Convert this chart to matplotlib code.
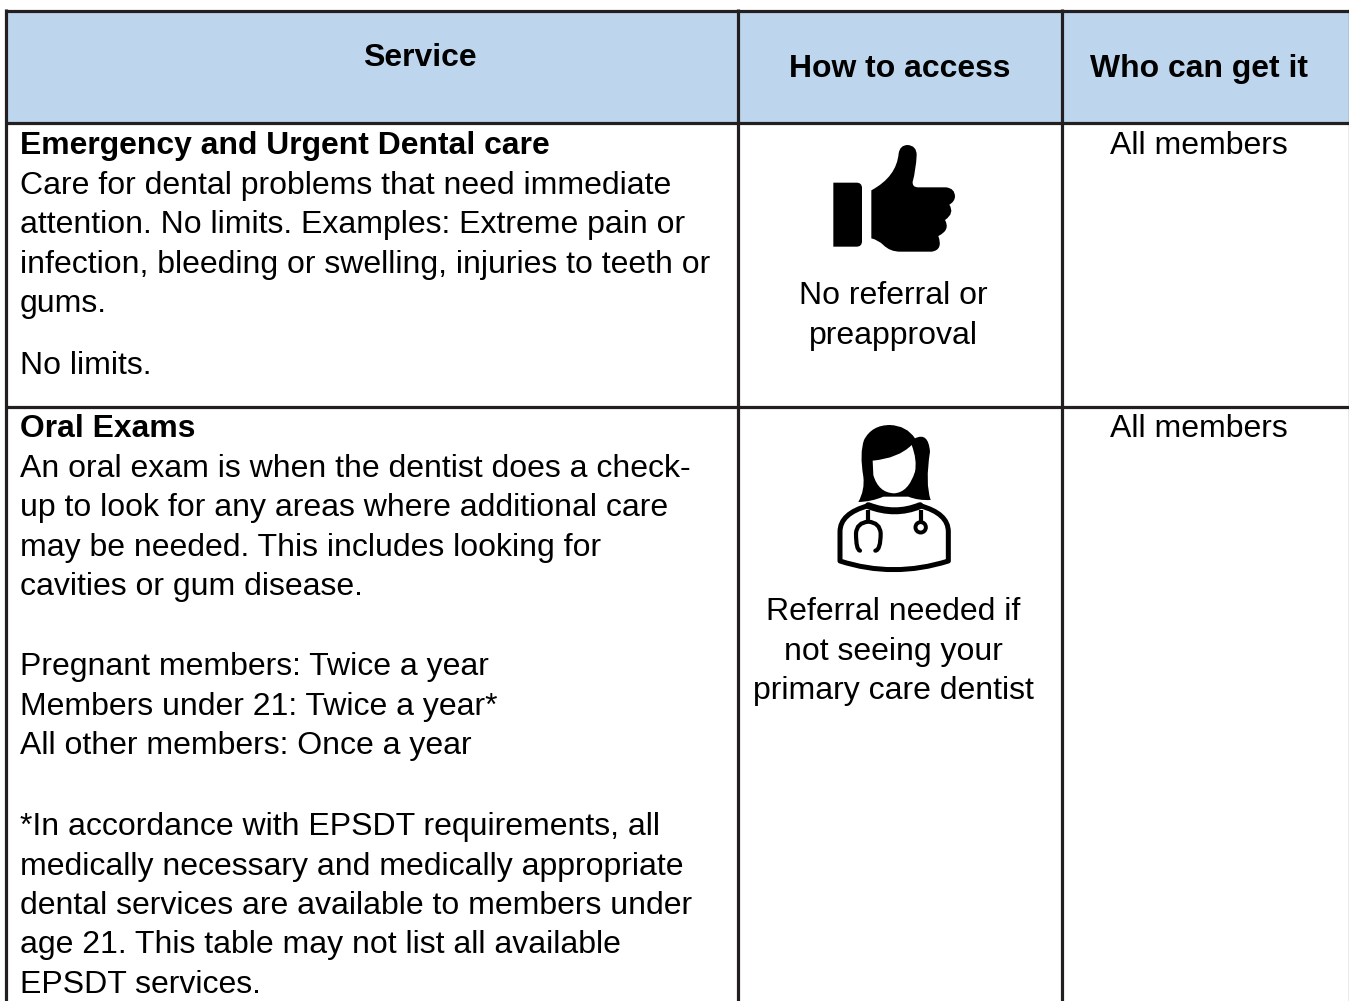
import matplotlib
matplotlib.use("Agg")
import matplotlib.pyplot as plt
from matplotlib.path import Path
from matplotlib.patches import PathPatch, Rectangle, Circle

plt.rcParams['font.family'] = ['Liberation Sans', 'DejaVu Sans']

W, H = 1349, 1001
FS = 23.05
FS_BOLD = 22.98
LINE = '#231f20'
HEAD = '#bdd6ee'

# Table text
headers = ["Service", "How to access", "Who can get it"]
row1_title = "Emergency and Urgent Dental care"
row1_lines = ["Care for dental problems that need immediate",
              "attention. No limits. Examples: Extreme pain or",
              "infection, bleeding or swelling, injuries to teeth or",
              "gums."]
row1_note = "No limits."
row1_access = ["No referral or", "preapproval"]
row2_title = "Oral Exams"
row2_lines = ["An oral exam is when the dentist does a check-",
              "up to look for any areas where additional care",
              "may be needed. This includes looking for",
              "cavities or gum disease."]
row2_freq = ["Pregnant members: Twice a year",
             "Members under 21: Twice a year*",
             "All other members: Once a year"]
row2_note = ["*In accordance with EPSDT requirements, all",
             "medically necessary and medically appropriate",
             "dental services are available to members under",
             "age 21. This table may not list all available",
             "EPSDT services."]
row2_access = ["Referral needed if", "not seeing your", "primary care dentist"]
who = "All members"

# Table grid, in pixels
col_x = [6, 737.5, 1062, 1349.5]
row_y = [10.5, 122.5, 406.5]

fig = plt.figure(figsize=(W / 100, H / 100), dpi=100)
ax = fig.add_axes([0, 0, 1, 1])
ax.set_xlim(0, W)
ax.set_ylim(H, 0)
ax.axis('off')

# Header band and grid
ax.add_patch(Rectangle((col_x[0], row_y[0]), col_x[3] - col_x[0], row_y[1] - row_y[0],
                       fc=HEAD, ec='none'))
for x in col_x:
    ax.plot([x, x], [row_y[0] - 1.5, H], color=LINE, lw=2.3, solid_capstyle='butt')
for y in row_y:
    ax.plot([col_x[0] - 1.5, W], [y, y], color=LINE, lw=2.3, solid_capstyle='butt')


def put(x, y, s, ha='left', bold=False):
    ax.text(x, y, s, ha=ha, va='baseline', fontsize=FS_BOLD if bold else FS, color='black',
            fontweight='bold' if bold else 'normal')


# Headers
put(420, 66, headers[0], 'center', True)
put(899.5, 77, headers[1], 'center', True)
put(1199.5, 77, headers[2], 'center', True)

# Row 1
put(20, 154, row1_title, bold=True)
for y, s in zip([194, 233, 273, 312], row1_lines):
    put(20, y, s)
put(20, 374, row1_note)
for y, s in zip([304, 344], row1_access):
    put(893, y, s, 'center')
put(1199, 154, who, 'center')

# Row 2
put(20, 437, row2_title, bold=True)
for y, s in zip([477, 516, 556, 595], row2_lines):
    put(20, y, s)
for y, s in zip([675, 715, 754], row2_freq):
    put(20, y, s)
for y, s in zip([835, 875, 914, 953, 993], row2_note):
    put(20, y, s)
for y, s in zip([620, 660, 699], row2_access):
    put(893, y, s, 'center')
put(1199, 437, who, 'center')


def shape(ox, oy, cmds, **kw):
    # cmds are drawn in 3x crop units with an origin at ox, oy
    verts, codes = [], []
    for c in cmds:
        if len(c) == 1:
            codes.append(Path.CLOSEPOLY)
            verts.append((0, 0))
        else:
            kind = {'M': Path.MOVETO, 'L': Path.LINETO, 'Q': Path.CURVE3}[c[0]]
            for p in c[1:]:
                verts.append((ox + p[0] / 3, oy + p[1] / 3))
                codes.append(kind)
    ax.add_patch(PathPatch(Path(verts, codes), **kw))


# Thumbs up icon
tx, ty = 760, 130
fill = dict(fc='black', ec='none')
shape(tx, ty, [('M', (220, 158)), ('L', (290, 158)), ('Q', (305, 158), (306, 173)),
               ('L', (306, 335)), ('Q', (305, 350), (290, 350)), ('L', (220, 350)), ('Z',)], **fill)
shape(tx, ty, [('M', (334, 181)), ('Q', (410, 140), (416, 70)),
               ('Q', (420, 45), (443, 45)), ('Q', (470, 47), (470, 75)),
               ('Q', (468, 120), (458, 155)), ('Q', (456, 172), (475, 172)),
               ('L', (558, 172)), ('Q', (585, 175), (585, 200)),
               ('Q', (584, 215), (568, 224)), ('Q', (585, 250), (555, 270)),
               ('Q', (572, 300), (535, 318)), ('Q', (550, 360), (515, 365)),
               ('L', (420, 365)), ('Q', (390, 365), (370, 345)),
               ('Q', (355, 330), (334, 325)), ('Z',)], **fill)

# Doctor icon
dx, dy = 800, 410
shape(dx, dy, [('M', (175, 276)), ('Q', (195, 240), (190, 200)), ('Q', (178, 130), (192, 90)),
               ('Q', (215, 45), (270, 45)), ('Q', (320, 47), (345, 85)),
               ('Q', (385, 65), (390, 125)), ('Q', (375, 220), (392, 270)),
               ('Q', (355, 272), (325, 260)), ('L', (250, 260)),
               ('Q', (215, 275), (175, 276)), ('Z',)], **fill)
shape(dx, dy, [('M', (218, 152)), ('Q', (295, 145), (335, 105)), ('Q', (352, 150), (345, 185)),
               ('Q', (325, 248), (282, 250)), ('Q', (235, 248), (220, 195)), ('Z',)],
      fc='white', ec='none')
stroke = dict(fc='none', ec='black', lw=3.6, capstyle='round', joinstyle='round')
shape(dx, dy, [('M', (205, 287)), ('Q', (120, 310), (120, 365)), ('L', (120, 453)),
               ('Q', (280, 505), (445, 453)), ('L', (445, 365)),
               ('Q', (445, 310), (360, 287))], **stroke)
shape(dx, dy, [('M', (205, 287)), ('Q', (285, 318), (360, 287))], fc='none', ec='black', lw=5,
      capstyle='round')
shape(dx, dy, [('M', (205, 300)), ('L', (205, 335))], fc='none', ec='black', lw=3)
shape(dx, dy, [('M', (180, 422)), ('Q', (168, 420), (168, 370)), ('Q', (170, 338), (205, 335)),
               ('Q', (240, 338), (242, 370)), ('Q', (242, 420), (226, 422))],
      fc='none', ec='black', lw=3, capstyle='round')
shape(dx, dy, [('M', (362, 300)), ('L', (362, 335))], fc='none', ec='black', lw=3)
ax.add_patch(Circle((dx + 362 / 3, dy + 352 / 3), 5.2, fc='white', ec='black', lw=2.8))

fig.savefig("out.png", dpi=100)
